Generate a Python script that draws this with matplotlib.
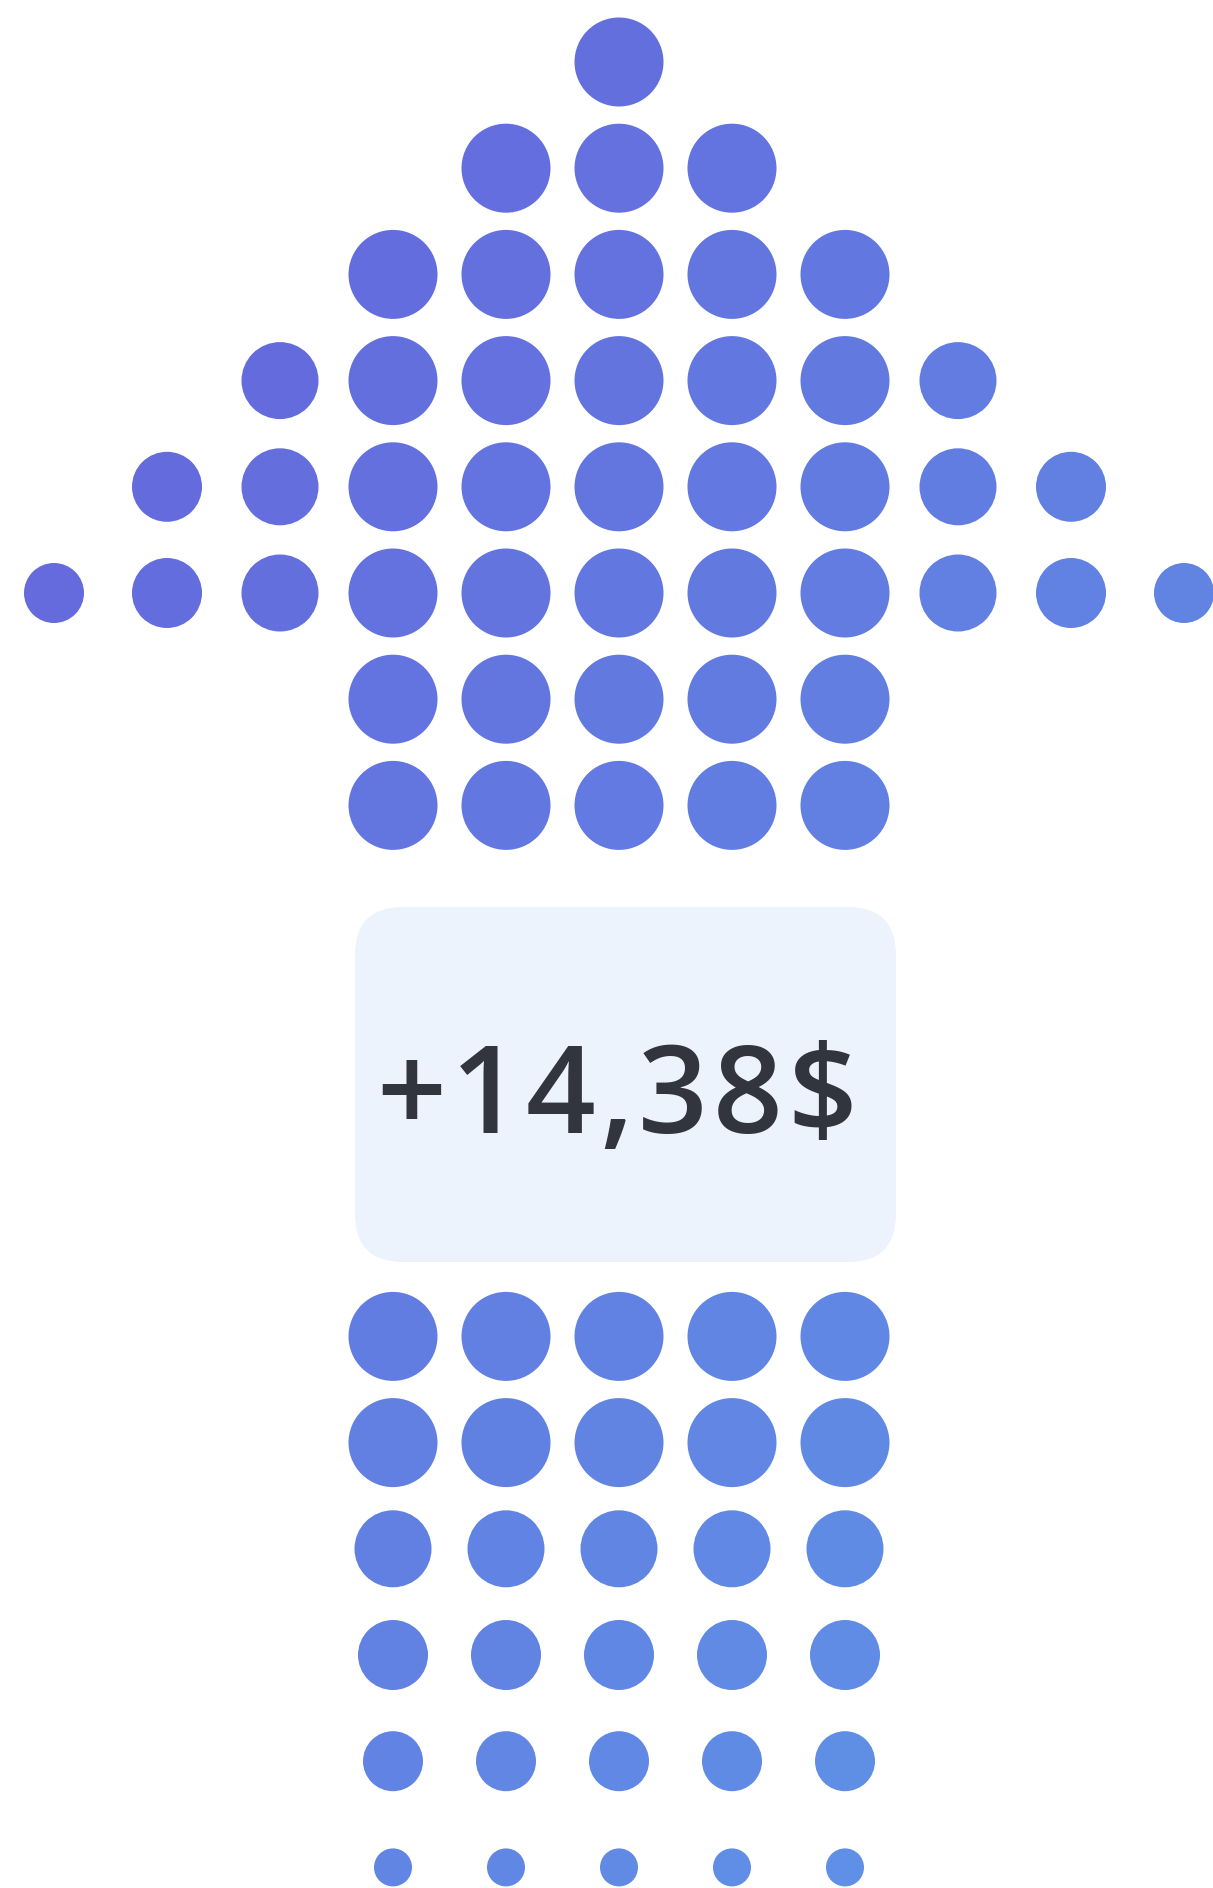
import numpy as np
import matplotlib.pyplot as plt
from matplotlib.patches import Circle, FancyBboxPatch
from matplotlib.colors import LinearSegmentedColormap

# upper part: dots per row spread from the centre column, lower part: 5 columns
upper_rows = [0, 1, 2, 3, 4, 5, 6, 7]
upper_half = [0, 1, 2, 3, 4, 5, 2, 2]
# dot size by distance from the centre column (0..5)
upper_size = [44.5, 44.5, 44.5, 38.5, 35, 30]
lower_rows = [12, 13, 14, 15, 16, 17]
lower_size = [44.5, 44.5, 38.5, 35, 30, 19]
lower_cols = [-2, -1, 0, 1, 2]
label = '+14,38$'

W, H = 1213, 1888
fig = plt.figure(figsize=(W / 100, H / 100), dpi=100)
ax = fig.add_axes([0, 0, 1, 1])
ax.set_xlim(0, W)
ax.set_ylim(H, 0)
ax.axis('off')

cmap = LinearSegmentedColormap.from_list('g', ['#6660da', '#5e98e8'])

def col_x(c):
    return 619 + 113 * c

def row_y(r):
    return 62 + 106.2 * r

def dot(c, r, size):
    x, y = col_x(c), row_y(r)
    t = (x / W + y / H) / 2
    ax.add_patch(Circle((x, y), size, color=cmap(t), lw=0))

for r, h in zip(upper_rows, upper_half):
    for c in range(-h, h + 1):
        dot(c, r, upper_size[abs(c)])

for r, s in zip(lower_rows, lower_size):
    for c in lower_cols:
        dot(c, r, s)

box = FancyBboxPatch((355 + 48, 907 + 48), 541 - 96, 355 - 96,
                     boxstyle='round,pad=48', fc='#ecf3fd', ec='none')
ax.add_patch(box)

# the label, one glyph at a time with a little extra tracking
rend = fig.canvas.get_renderer()
gap = 5
x = 0
parts = []
for ch in label:
    t = ax.text(x, 1133, ch, ha='left', va='baseline', fontsize=88,
                family='Open Sans', weight='semibold', color='#32343e')
    w = t.get_window_extent(rend).width
    parts.append((t, x))
    x += w + gap
total = x - gap
shift = 617 - total / 2
for t, x0 in parts:
    t.set_x(x0 + shift)

fig.savefig('out.png', dpi=100)
